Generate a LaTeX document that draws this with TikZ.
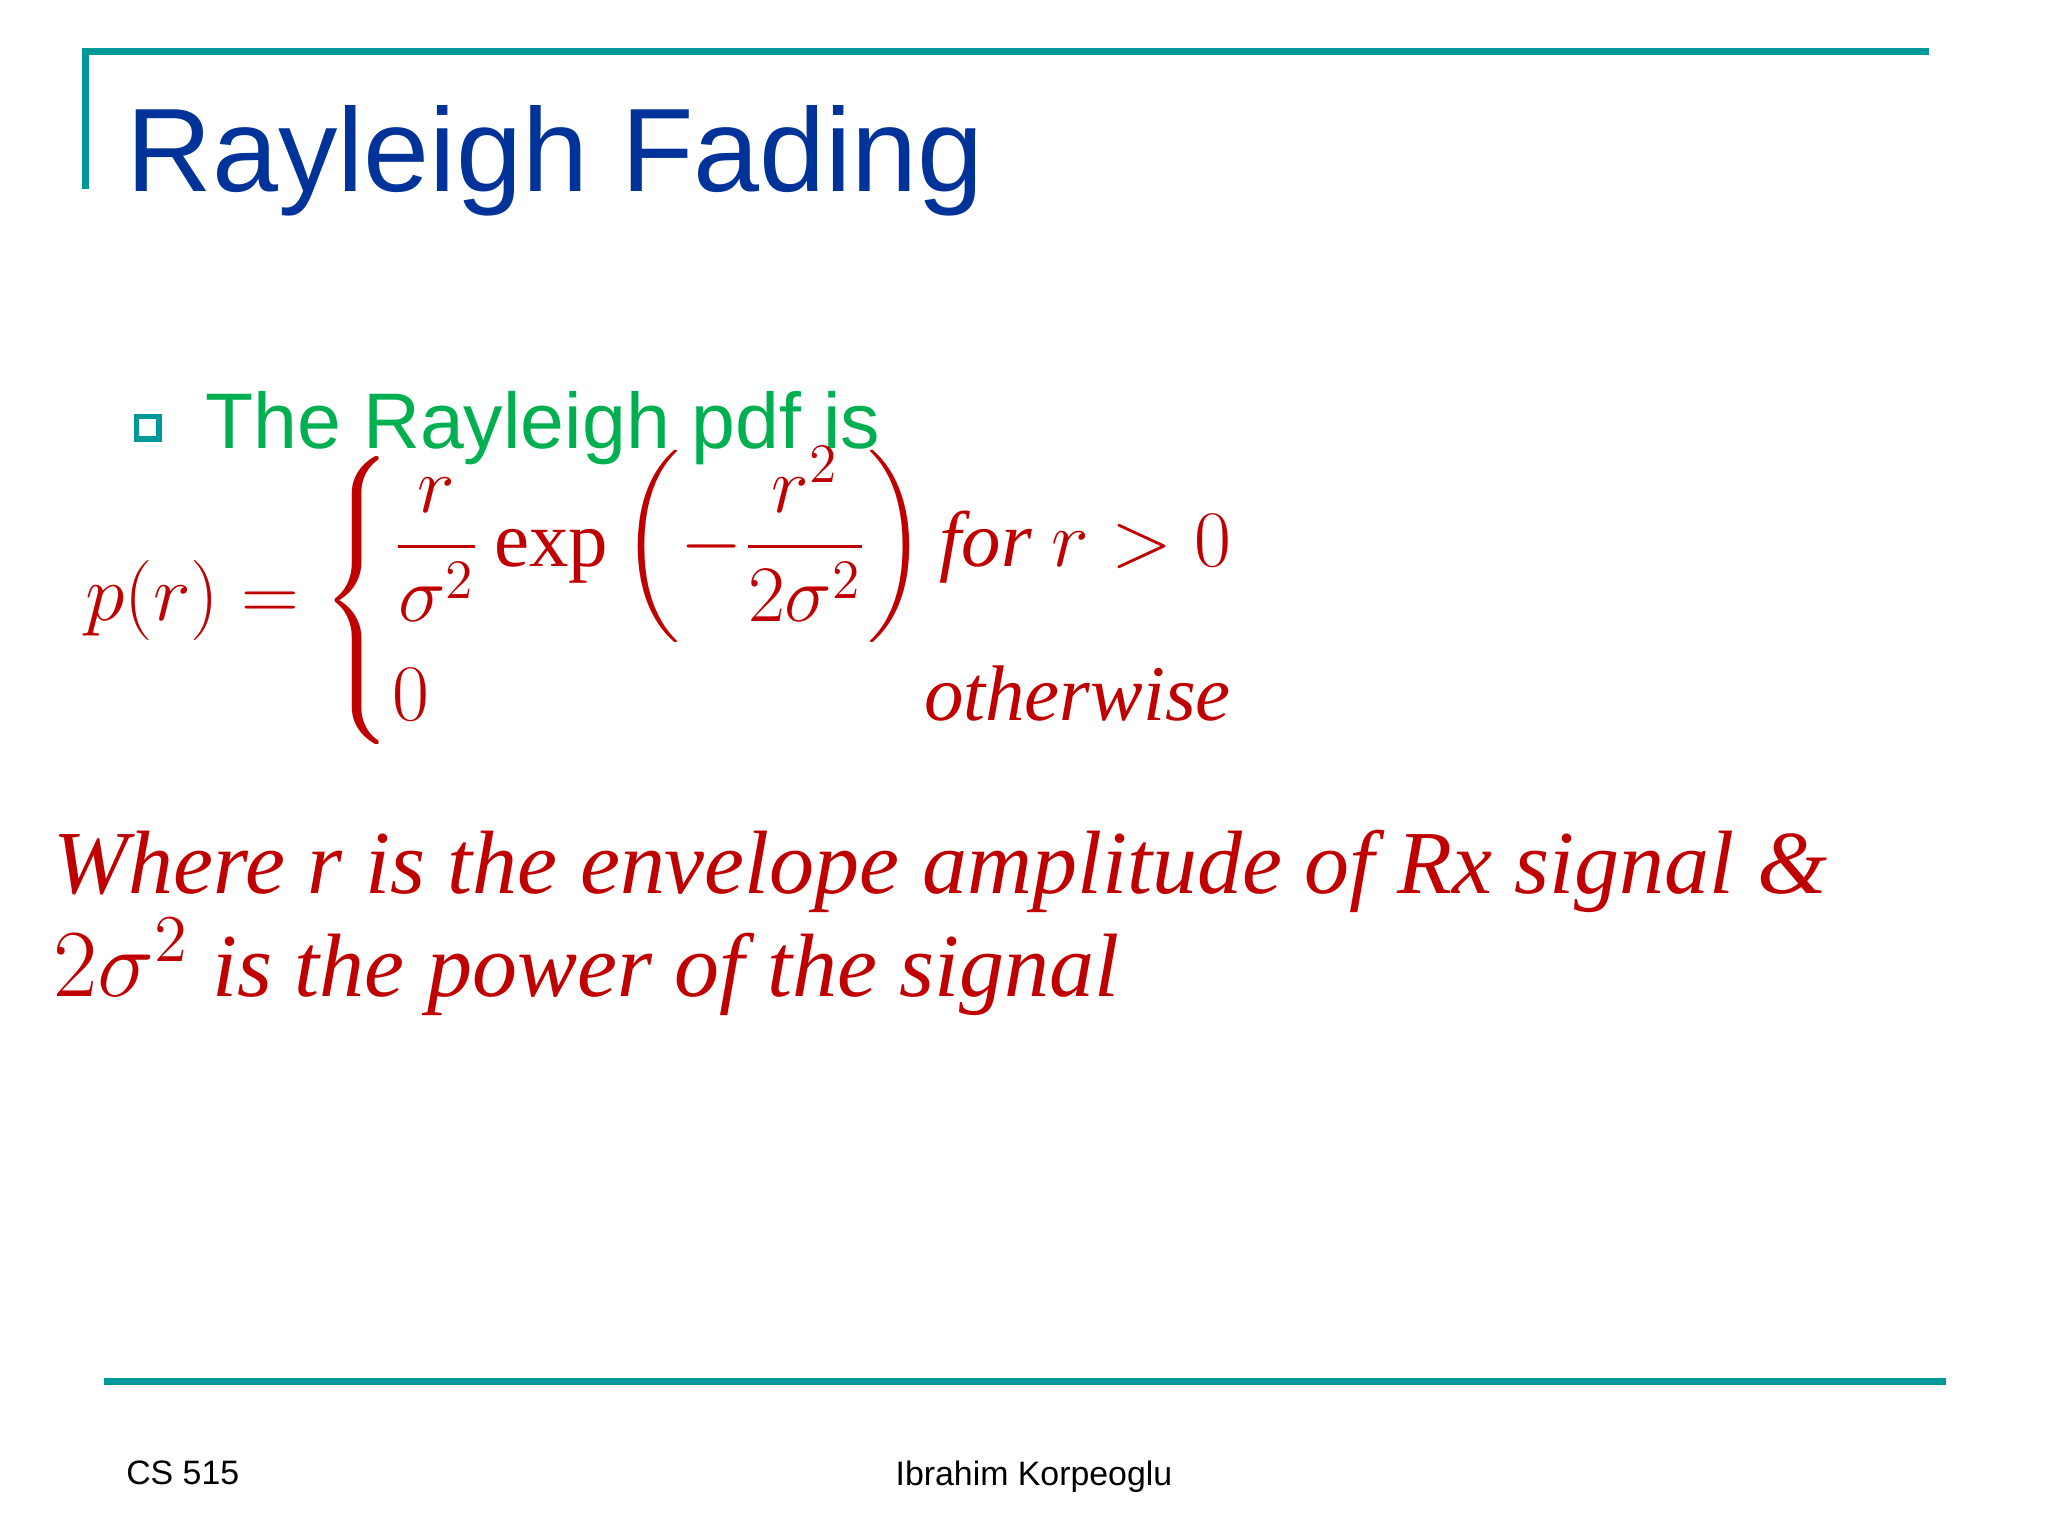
\documentclass[tikz,border=0pt]{standalone}
\usepackage{amsmath}
\usepackage{fontspec}
\setmainfont{Liberation Serif}
\setsansfont{Liberation Sans}
\definecolor{teal1}{RGB}{0,153,153}
\definecolor{titleblue}{RGB}{0,51,153}
\definecolor{bgreen}{RGB}{0,176,80}
\definecolor{fred}{RGB}{192,0,0}
\tikzset{rule/.style={draw=teal1,line width=1.5pt}}
\begin{document}
\begin{tikzpicture}[x=1cm,y=1cm]
\useasboundingbox (0,0) rectangle (15.52,-11.64);
\coordinate (t1) at (0.65,-1.43); \coordinate (t2) at (0.65,-0.39); \coordinate (t3) at (14.62,-0.39);
\draw[rule] (t1) -- (t2) -- (t3);
\coordinate (b1) at (0.79,-10.47); \coordinate (b2) at (14.75,-10.47);
\draw[rule] (b1) -- (b2);
\node (title) [anchor=base west,inner sep=0,text=titleblue,font=\sffamily\fontsize{25.6}{30}\selectfont] at (0.95,-1.45) {Rayleigh Fading};
\node (bul) [draw=teal1,fill=white,line width=1.2pt,minimum size=0.17cm,inner sep=0] at (1.12,-3.24) {};
\node (pdf) [anchor=base west,inner sep=0,text=bgreen,font=\sffamily\fontsize{17}{20}\selectfont] at (1.55,-3.40) {The Rayleigh pdf is};
\node (eq) [anchor=west,inner sep=0,text=fred,font=\fontsize{17}{20}\selectfont] at (0.64,-4.55)
 {$p(r)=\left\{\renewcommand{\arraystretch}{1.2}\begin{array}{@{}l@{}}\dfrac{r}{\sigma^2}\,\mathrm{exp}\left(-\dfrac{r^2}{2\sigma^2}\right)\textit{for } r>0\\[4pt] 0\hspace{3.75cm}\textit{otherwise}\end{array}\right.$};
\node (w1) [anchor=base west,inner sep=0,text=fred,font=\fontsize{19.4}{23}\selectfont] at (0.40,-6.77)
 {\textit{Where r is the envelope amplitude of Rx signal \&}};
\node (w2) [anchor=base west,inner sep=0,text=fred,font=\fontsize{19.4}{23}\selectfont] at (0.40,-7.55)
 {$2\sigma^2$ \textit{is the power of the signal}};
\node (cs) [anchor=base west,inner sep=0,font=\sffamily\fontsize{7.3}{9}\selectfont] at (0.95,-11.25) {CS 515};
\node (ik) [anchor=base west,inner sep=0,font=\sffamily\fontsize{7.3}{9}\selectfont] at (6.78,-11.26) {Ibrahim Korpeoglu};
\end{tikzpicture}
\end{document}
